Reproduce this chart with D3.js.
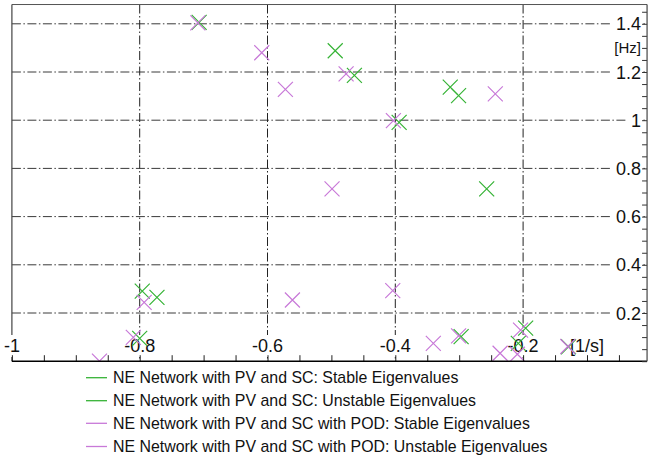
<!DOCTYPE html>
<html>
<head>
<meta charset="utf-8">
<script src="https://cdn.jsdelivr.net/npm/d3@7"></script>
<style>
  html, body { margin: 0; padding: 0; background: #fff; }
  svg { display: block; font-family: Arial, "Liberation Sans", sans-serif; }
</style>
</head>
<body>
<svg id="chart" width="648" height="456"></svg>
<script>
// Eigenvalues: real part [1/s] and frequency [Hz]
const pvscStableRe = [-0.707, -0.494, -0.464, -0.394, -0.314, -0.301, -0.257, -0.796, -0.773, -0.800, -0.297, -0.196, -0.2075, -0.129];
const pvscStableHz = [1.406, 1.288, 1.186, 0.991, 1.137, 1.102, 0.715, 0.291, 0.265, 0.095, 0.102, 0.137, 0.074, 0.060];
const pvscUnstableRe = [];
const pvscUnstableHz = [];
const podStableRe = [-0.709, -0.477, -0.609, -0.572, -0.403, -0.2435, -0.499, -0.561, -0.404, -0.793, -0.810, -0.863, -0.3405, -0.301, -0.236, -0.209, -0.204, -0.130];
const podStableHz = [1.404, 1.192, 1.280, 1.128, 0.998, 1.109, 0.715, 0.254, 0.293, 0.244, 0.099, 0.0, 0.074, 0.105, 0.033, 0.029, 0.129, 0.061];
const podUnstableRe = [];
const podUnstableHz = [];

const legendLabels = [
  "NE Network with PV and SC: Stable Eigenvalues",
  "NE Network with PV and SC: Unstable Eigenvalues",
  "NE Network with PV and SC with POD: Stable Eigenvalues",
  "NE Network with PV and SC with POD: Unstable Eigenvalues"
];
const seriesColors = ["#36b336", "#36b336", "#c879d8", "#c879d8"];

const xTickValues = [-1, -0.8, -0.6, -0.4, -0.2, -0.1];
const xTickLabels = ["-1", "-0.8", "-0.6", "-0.4", "-0.2", "[1/s]"];
const yTickValues = [0.2, 0.4, 0.6, 0.8, 1.0, 1.2, 1.3, 1.4];
const yTickLabels = ["0.2", "0.4", "0.6", "0.8", "1", "1.2", "[Hz]", "1.4"];
const xGridValues = [-0.8, -0.6, -0.4, -0.2];
const yGridValues = [0.2, 0.4, 0.6, 0.8, 1.0, 1.2, 1.4];

const xMin = -1, xMax = -0.006, yMin = 0, yMax = 1.48;

const svg = d3.select("#chart");
const x = d3.scaleLinear().domain([-1, 0]).range([11.9, 650.9]);
const y = d3.scaleLinear().domain([0, 1.4]).range([361.2, 23.8]);

const plotL = x(xMin), plotR = x(xMax), plotT = y(yMax), plotB = y(yMin);

svg.append("defs").append("clipPath").attr("id", "plotClip")
  .append("rect").attr("x", plotL).attr("y", plotT)
  .attr("width", plotR - plotL).attr("height", plotB - plotT);

const dash = "9,2.5,1.5,2.5";

// grid
const grid = svg.append("g");
grid.selectAll("line.h").data(yGridValues).join("line")
  .attr("x1", plotL).attr("x2", plotR)
  .attr("y1", d => y(d)).attr("y2", d => y(d))
  .attr("stroke", "#3a3a3a").attr("stroke-width", 1)
  .attr("stroke-dasharray", dash);
grid.selectAll("line.v").data(xGridValues).join("line")
  .attr("x1", d => x(d)).attr("x2", d => x(d))
  .attr("y1", plotT).attr("y2", plotB)
  .attr("stroke", "#222").attr("stroke-width", 1)
  .attr("stroke-dasharray", dash);

// frame
svg.append("line").attr("x1", plotL).attr("x2", plotR).attr("y1", plotT).attr("y2", plotT)
  .attr("stroke", "#555").attr("stroke-width", 1);
svg.append("line").attr("x1", plotL).attr("x2", plotL).attr("y1", plotT).attr("y2", plotB)
  .attr("stroke", "#444").attr("stroke-width", 1.2);

// tick labels with white backing
function labelWithBox(g, tx, ty, text, anchor, size, padL, padR, padT, padB) {
  const grp = g.append("g");
  const t = grp.append("text").attr("x", tx).attr("y", ty)
    .attr("text-anchor", anchor).attr("font-size", size)
    .attr("fill", "#111").text(text);
  const bb = t.node().getBBox();
  grp.insert("rect", "text")
    .attr("x", bb.x - padL).attr("y", bb.y - padT)
    .attr("width", bb.width + padL + padR).attr("height", bb.height + padT + padB)
    .attr("fill", "#fff");
}

const labels = svg.append("g");
yTickValues.forEach((v, i) => {
  const isUnit = yTickLabels[i] === "[Hz]";
  labelWithBox(labels, 641, y(v) + (isUnit ? 5.5 : 6.5), yTickLabels[i], "end",
    isUnit ? 15 : 18, 5, 1, 0, 0);
});
xTickValues.forEach((v, i) => {
  labelWithBox(labels, x(v), 352, xTickLabels[i], "middle", 18, 1, 1, 1, 1);
});

// markers
const marks = svg.append("g").attr("clip-path", "url(#plotClip)");
const half = 7.5;
function drawSeries(re, hz, color) {
  const pts = re.map((r, i) => [r, hz[i]]);
  marks.append("g").selectAll("path").data(pts).join("path")
    .attr("d", d => {
      const cx = x(d[0]), cy = y(d[1]);
      return `M${cx - half},${cy - half}L${cx + half},${cy + half}M${cx - half},${cy + half}L${cx + half},${cy - half}`;
    })
    .attr("fill", "none").attr("stroke", color).attr("stroke-width", 1.2);
}
drawSeries(pvscStableRe, pvscStableHz, seriesColors[0]);
drawSeries(pvscUnstableRe, pvscUnstableHz, seriesColors[1]);
drawSeries(podStableRe, podStableHz, seriesColors[2]);
drawSeries(podUnstableRe, podUnstableHz, seriesColors[3]);

// axes
const xMinor = d3.range(0, 20).map(i => -1 + i * 0.05);
const yMinor = d3.range(0, 30).map(i => i * 0.05);
const xAxis = d3.axisTop(x).tickValues(xMinor).tickSize(6).tickSizeOuter(0).tickFormat("");
const gx = svg.append("g").attr("transform", `translate(0,${plotB})`).call(xAxis);
gx.select(".domain").remove();
gx.selectAll(".tick line").attr("stroke", "#222");
svg.append("line").attr("x1", plotL).attr("x2", plotR).attr("y1", plotB).attr("y2", plotB)
  .attr("stroke", "#000").attr("stroke-width", 1.6);

const yAxis = d3.axisLeft(y).tickValues(yMinor).tickSize(5).tickSizeOuter(0).tickFormat("");
const gy = svg.append("g").attr("transform", `translate(${plotR},0)`).call(yAxis);
gy.select(".domain").remove();
gy.selectAll(".tick line").attr("stroke", "#333");
svg.append("line").attr("x1", plotR).attr("x2", plotR).attr("y1", plotT).attr("y2", plotB)
  .attr("stroke", "#444").attr("stroke-width", 1.2);

// legend
const legend = svg.append("g");
const rowY = [377.7, 400.7, 423.3, 446.5];
legendLabels.forEach((lab, i) => {
  legend.append("line").attr("x1", 86).attr("x2", 107)
    .attr("y1", rowY[i]).attr("y2", rowY[i])
    .attr("stroke", seriesColors[i]).attr("stroke-width", 1.3);
  legend.append("text").attr("x", 113).attr("y", rowY[i] + 5.5)
    .attr("font-size", 15.9).attr("fill", "#111").text(lab);
});
</script>
</body>
</html>
